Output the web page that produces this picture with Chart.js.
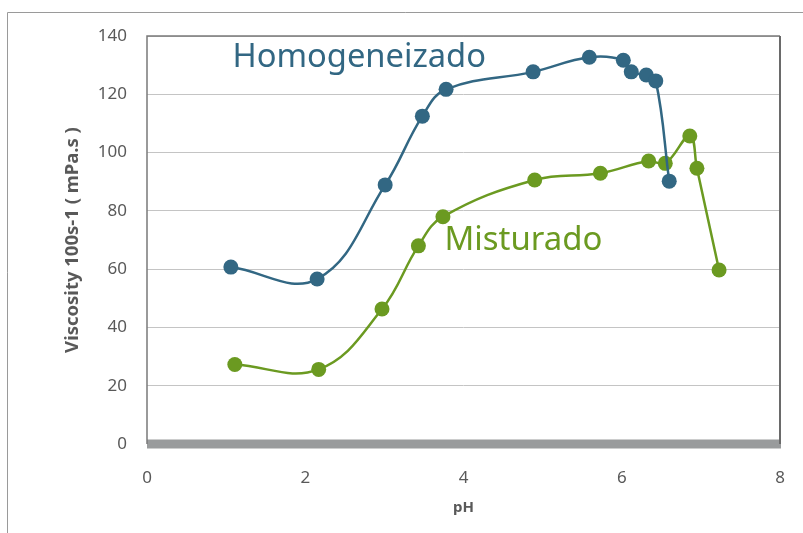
<!DOCTYPE html>
<html>
<head>
<meta charset="utf-8">
<script src="https://cdn.jsdelivr.net/npm/chart.js@4/dist/chart.umd.min.js"></script>
<style>
  html, body { margin: 0; padding: 0; background: #ffffff; }
  #wrap { width: 803px; height: 533px; position: relative; }
</style>
</head>
<body>
<div id="wrap"><canvas id="chartViscosidade" width="803" height="533"></canvas></div>
<script>
// ==========================
// Datos
// ==========================

const phHomogeneizado = [1.06, 2.15, 3.01, 3.48, 3.78, 4.88, 5.59, 6.02, 6.12, 6.31, 6.43, 6.60];
const viscHomogeneizado = [60.7, 56.6, 88.9, 112.5, 121.7, 127.7, 132.7, 131.7, 127.7, 126.6, 124.6, 90.2];

const phMisturado = [1.11, 2.17, 2.97, 3.43, 3.74, 4.90, 5.73, 6.34, 6.55, 6.86, 6.95, 7.23];
const viscMisturado = [27.3, 25.6, 46.3, 68.0, 78.0, 90.6, 92.9, 97.1, 96.3, 105.7, 94.6, 59.7];

const xTicks = [0, 2, 4, 6, 8];
const yTicks = [0, 20, 40, 60, 80, 100, 120, 140];

const nombres = ["Homogeneizado", "Misturado"];

// ==========================
// Colores
// ==========================

const colores = {
    azul: "#326783",
    verde: "#6b9a21",
    texto: "#595959",
    grilla: "#c4c4c4",
    ejeCero: "#999b9c",
    marco: "#7a7a7a"
};

function puntos(xs, ys) {
    return xs.map((x, i) => ({ x: x, y: ys[i] }));
}

// rótulos de las series, en coordenadas de datos
const rotulos = [
    { texto: nombres[0], x: 1.08, y: 129.3, ancho: 254, color: colores.azul },
    { texto: nombres[1], x: 3.76, y: 66.6, ancho: 158, color: colores.verde }
];

const fuente = "'Noto Sans', 'DejaVu Sans', sans-serif";

// ==========================
// Plugin: marco, eje cero y rótulos
// ==========================

const decoracion = {
    id: "decoracion",
    beforeDraw(chart) {
        const ctx = chart.ctx;
        ctx.save();
        ctx.strokeStyle = "#9a9a9a";
        ctx.lineWidth = 1;
        ctx.beginPath();
        ctx.moveTo(7.5, 533);
        ctx.lineTo(7.5, 12.5);
        ctx.lineTo(803, 12.5);
        ctx.stroke();
        ctx.restore();
    },
    afterDraw(chart) {
        const ctx = chart.ctx;
        const a = chart.chartArea;
        const y0 = chart.scales.y.getPixelForValue(0);
        ctx.save();

        // barra gruesa en y = 0
        ctx.fillStyle = colores.ejeCero;
        ctx.fillRect(a.left, y0 - 4.5, a.right - a.left + 1, 9);

        // bordes del área de trazado
        ctx.strokeStyle = colores.marco;
        ctx.lineWidth = 1.5;
        ctx.beginPath();
        ctx.moveTo(a.left, y0);
        ctx.lineTo(a.left, a.top);
        ctx.lineTo(a.right, a.top);
        ctx.stroke();
        ctx.lineWidth = 2;
        ctx.strokeStyle = "#6a6a6a";
        ctx.beginPath();
        ctx.moveTo(a.right, a.top);
        ctx.lineTo(a.right, y0);
        ctx.stroke();

        // rótulos
        rotulos.forEach(r => {
            ctx.font = "30px " + fuente;
            const w = ctx.measureText(r.texto).width;
            const size = 30 * r.ancho / w;
            ctx.font = size.toFixed(1) + "px " + fuente;
            ctx.fillStyle = r.color;
            ctx.textAlign = "left";
            ctx.textBaseline = "alphabetic";
            ctx.fillText(r.texto,
                chart.scales.x.getPixelForValue(r.x),
                chart.scales.y.getPixelForValue(r.y));
        });
        ctx.restore();
    }
};

// ==========================
// Gráfico
// ==========================

new Chart(document.getElementById("chartViscosidade"), {
    type: "line",
    data: {
        datasets: [
            {
                label: nombres[0],
                data: puntos(phHomogeneizado, viscHomogeneizado),
                borderColor: colores.azul,
                backgroundColor: colores.azul,
                pointBackgroundColor: colores.azul,
                pointBorderWidth: 0,
                pointRadius: 7.5,
                borderWidth: 2.5,
                tension: 0.4,
                fill: false,
                order: 0
            },
            {
                label: nombres[1],
                data: puntos(phMisturado, viscMisturado),
                borderColor: colores.verde,
                backgroundColor: colores.verde,
                pointBackgroundColor: colores.verde,
                pointBorderWidth: 0,
                pointRadius: 7.5,
                borderWidth: 2.5,
                tension: 0.4,
                fill: false,
                order: 1
            }
        ]
    },
    options: {
        responsive: false,
        animation: false,
        layout: {
            padding: { left: 0, top: 36, right: 23, bottom: 0 }
        },
        plugins: {
            legend: { display: false },
            tooltip: { enabled: false }
        },
        scales: {
            x: {
                type: "linear",
                min: 0,
                max: 8,
                afterFit(scale) {
                    scale.height = 89;
                    scale.paddingLeft = 0;
                    scale.paddingRight = 0;
                },
                afterBuildTicks(scale) { scale.ticks = xTicks.map(v => ({ value: v })); },
                grid: { display: false, drawTicks: false },
                border: { display: false },
                ticks: {
                    padding: 24,
                    maxRotation: 0,
                    color: colores.texto,
                    font: { family: fuente, size: 17 }
                },
                title: {
                    display: true,
                    text: "pH",
                    color: colores.texto,
                    font: { family: fuente, size: 15, weight: "bold" },
                    padding: { top: 0, bottom: 16 }
                }
            },
            y: {
                min: 0,
                max: 140,
                afterFit(scale) { scale.width = 147; },
                afterBuildTicks(scale) { scale.ticks = yTicks.map(v => ({ value: v })); },
                grid: {
                    color: colores.grilla,
                    lineWidth: 1,
                    drawTicks: false
                },
                border: { display: false },
                ticks: {
                    padding: 20,
                    color: colores.texto,
                    font: { family: fuente, size: 17 }
                },
                title: {
                    display: true,
                    text: "Viscosity 100s-1 ( mPa.s )",
                    color: colores.texto,
                    font: { family: fuente, size: 18.5, weight: "bold" },
                    padding: { top: 62, bottom: 0 }
                }
            }
        }
    },
    plugins: [decoracion]
});
</script>
</body>
</html>
